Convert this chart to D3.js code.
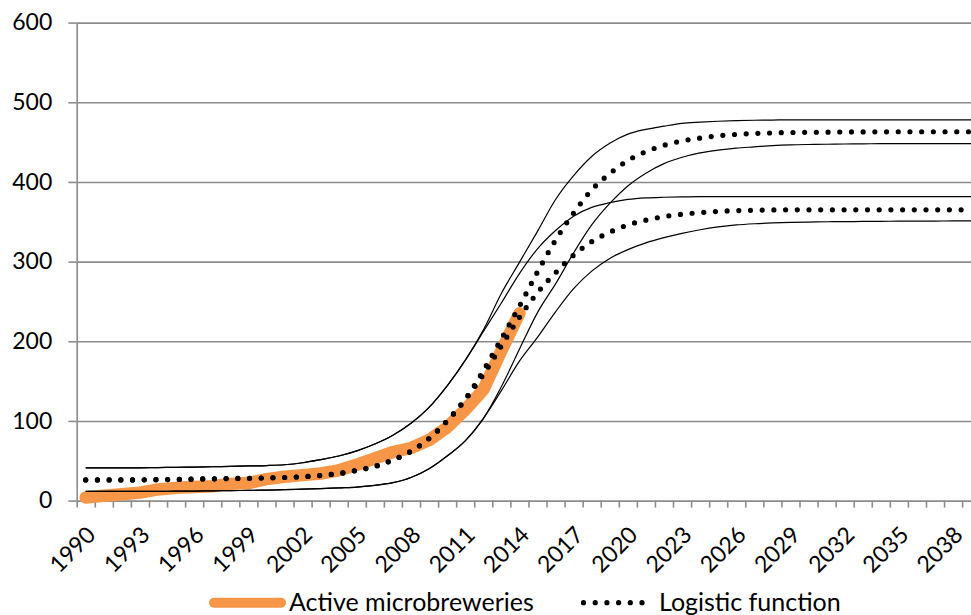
<!DOCTYPE html>
<html>
<head>
<meta charset="utf-8">
<script src="https://cdn.jsdelivr.net/npm/d3@7"></script>
<style>
  html, body { margin: 0; padding: 0; background: #fff; }
  svg { display: block; font-family: Lato, "Open Sans", sans-serif; }
</style>
</head>
<body>
<svg id="chart" width="971" height="615"></svg>
<script>
// ---- data ----
const years = [1990,1991,1992,1993,1994,1995,1996,1997,1998,1999,
               2000,2001,2002,2003,2004,2005,2006,2007,2008,2009,
               2010,2011,2012,2013,2014,2015,2016,2017,2018,2019,
               2020,2021,2022,2023,2024,2025,2026,2027,2028,2029,
               2030,2031,2032,2033,2034,2035,2036,2037,2038,2039];
const xTickLabels = [1990,1993,1996,1999,2002,2005,2008,2011,2014,2017,2020,2023,2026,2029,2032,2035,2038];
const yTicks = [0,100,200,300,400,500,600];

// Active microbreweries, 1990-2014
const microbreweries = [4,6,8,10,14,16,17,18,21,22,
                        27,30,32,34,38,45,53,61,66,76,
                        92,114,139,188,235];

// Logistic function, high scenario
const logisticHigh = [26,26,26,26,26.3,26.5,27,27.3,27.7,28,
                      28.5,29,30,31.5,34,38,43,51,62,78,
                      100,127,163,203,244,287,327,361,390,410.5,
                      427,438,446,451.5,455,458,459.7,460.8,461.5,462,
                      462.3,462.5,462.7,462.8,462.9,463,463,463,463,463];
// Logistic function, low scenario
const logisticLow = [26,26,26,26,26.3,26.5,27,27.3,27.7,28,
                     28.5,29,30,31.5,34,38,43,51,62,78,
                     100,127,158,194,230,261,286,308,325,337,
                     346,352,356.5,359.5,361.5,363,364,364.5,364.8,365,
                     365,365,365,365,365,365,365,365,365,365];

// Bounds around the high scenario
const highUpper = [41,41,41,41.2,41.5,41.8,42,42.5,43,43.5,
                   44,45,47.5,51.5,56,62.5,71,82,97,117,
                   144,176,214,260,299,338,378,408,432,448.5,
                   460,466,470,473.5,475,476.2,477,477.4,477.7,478,
                   478,478,478,478,478,478,478,478,478,478];
const highLower = [11.5,11.5,11.5,11.6,11.7,11.8,12,12.2,12.5,12.8,
                   13.2,13.7,14.3,15,16,17,19,22.5,29,40,
                   56,75,103,143,190,236,272,311,346,373,
                   395,411,423,431,436.5,440,442.5,444,445.5,446.5,
                   447,447.3,447.6,447.8,448,448,448,448,448,448];
// Bounds around the low scenario
const lowUpper = [41,41,41,41.2,41.5,41.8,42,42.5,43,43.5,
                  44,45,47.5,51.5,56,62.5,71,82,97,117,
                  144,176,212,248,285,316,339,357,368,374,
                  378,380,380.8,381.2,381.5,381.5,381.5,381.5,381.5,381.5,
                  381.5,381.5,381.5,381.5,381.5,381.5,381.5,381.5,381.5,381.5];
const lowLower = [11.5,11.5,11.5,11.6,11.7,11.8,12,12.2,12.5,12.8,
                  13.2,13.7,14.3,15,16,17,19,22.5,29,40,
                  56,75,103,138,175,205,237,266,288,304,
                  315,323.5,330,335.5,340,343.5,346,347.5,348.5,349.2,
                  349.6,350,350.2,350.4,350.6,350.7,350.8,350.9,351,351];

const legendLabels = ["Active microbreweries", "Logistic function"];

// ---- layout ----
const svg = d3.select("#chart");
const plotLeft = 76.7, plotRight = 980.2, plotTop = 22.6, plotBottom = 500.6;

const x = d3.scaleLinear().domain([years[0] - 0.5, years[years.length - 1] + 0.5]).range([plotLeft, plotRight]);
const y = d3.scaleLinear().domain([0, 600]).range([plotBottom, plotTop]);

const gridColor = "#8c8c8c";
const fontStack = "Lato, 'Open Sans', sans-serif";

// gridlines
svg.append("g")
  .attr("transform", `translate(${plotLeft},0)`)
  .call(d3.axisLeft(y).tickValues(yTicks.slice(1)).tickSize(-(plotRight - plotLeft)).tickFormat(""))
  .call(g => g.select(".domain").remove())
  .call(g => g.selectAll("line").attr("stroke", gridColor).attr("stroke-width", 1.6));

// y axis
svg.append("g")
  .attr("transform", `translate(${plotLeft},0)`)
  .call(d3.axisLeft(y).tickValues(yTicks).tickSize(8.4).tickPadding(16).tickSizeOuter(0))
  .call(g => g.select(".domain").attr("stroke", gridColor).attr("stroke-width", 1.6))
  .call(g => g.selectAll("line").attr("stroke", gridColor).attr("stroke-width", 1.6))
  .call(g => g.selectAll("text").attr("font-size", 23).attr("fill", "#000")
      .style("font-family", fontStack));

// x axis (ticks between categories)
const boundaries = years.map(d => d - 0.5).concat([years[years.length - 1] + 0.5]);
svg.append("g")
  .attr("transform", `translate(0,${plotBottom})`)
  .call(d3.axisBottom(x).tickValues(boundaries).tickSize(7).tickFormat("").tickSizeOuter(0))
  .call(g => g.select(".domain").attr("stroke", gridColor).attr("stroke-width", 1.6))
  .call(g => g.selectAll("line").attr("stroke", gridColor).attr("stroke-width", 1.6));

// x labels
svg.append("g")
  .attr("transform", `translate(0,${plotBottom})`)
  .call(d3.axisBottom(x).tickValues(xTickLabels).tickSize(0).tickFormat(d3.format("d")))
  .call(g => g.select(".domain").remove())
  .call(g => g.selectAll("text")
      .attr("font-size", 23).attr("fill", "#000")
      .style("font-family", fontStack)
      .attr("y", 0).attr("dy", "0.35em")
      .attr("transform", "translate(5,30) rotate(-45)")
      .style("text-anchor", "end"));

// ---- series ----
const smooth = d3.line().x((d, i) => x(years[i])).y(d => y(d)).curve(d3.curveMonotoneX);
const straight = d3.line().x((d, i) => x(years[i])).y(d => y(d));

const plot = svg.append("g");

plot.append("path")
  .attr("d", straight(microbreweries))
  .attr("fill", "none")
  .attr("stroke", "#F79646")
  .attr("stroke-width", 12.5)
  .attr("stroke-linecap", "round")
  .attr("stroke-linejoin", "round");

[highUpper, highLower, lowUpper, lowLower].forEach(s => {
  plot.append("path")
    .attr("d", smooth(s))
    .attr("fill", "none")
    .attr("stroke", "#000")
    .attr("stroke-width", 1.2);
});

[logisticHigh, logisticLow].forEach(s => {
  plot.append("path")
    .attr("d", smooth(s))
    .attr("fill", "none")
    .attr("stroke", "#000")
    .attr("stroke-width", 5.2)
    .attr("stroke-linecap", "round")
    .attr("stroke-dasharray", "0 11.7");
});

// ---- legend ----
const legend = svg.append("g");
legend.append("line")
  .attr("x1", 214).attr("x2", 281).attr("y1", 602.7).attr("y2", 602.7)
  .attr("stroke", "#F79646").attr("stroke-width", 10).attr("stroke-linecap", "round");
legend.append("text")
  .attr("x", 289).attr("y", 602.7).attr("dy", "0.35em")
  .attr("font-size", 25).attr("fill", "#000")
  .text(legendLabels[0]);
legend.append("line")
  .attr("x1", 583.5).attr("x2", 643).attr("y1", 602.7).attr("y2", 602.7)
  .attr("stroke", "#000").attr("stroke-width", 5.2).attr("stroke-linecap", "round")
  .attr("stroke-dasharray", "0 11.7");
legend.append("text")
  .attr("x", 659).attr("y", 602.7).attr("dy", "0.35em")
  .attr("font-size", 25).attr("fill", "#000")
  .text(legendLabels[1]);
</script>
</body>
</html>
